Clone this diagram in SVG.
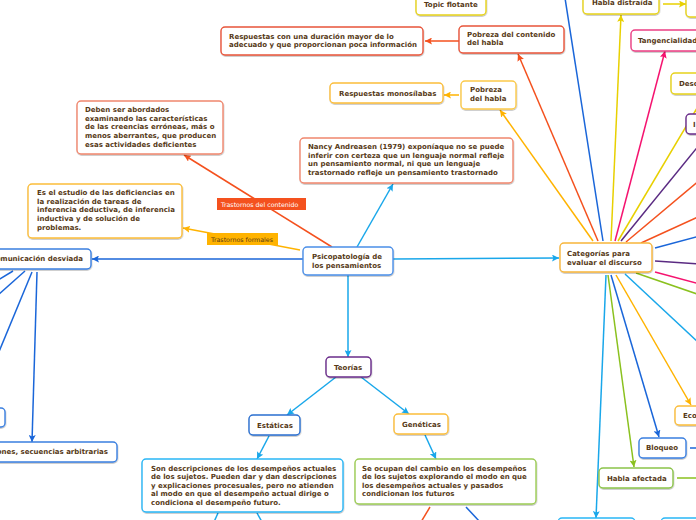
<svg xmlns="http://www.w3.org/2000/svg" width="696" height="520" viewBox="0 0 696 520">
<style>
.n rect{fill:#fff;stroke-width:1.4;filter:url(#sh)}
.t{font-family:"DejaVu Sans",Verdana,sans-serif;font-weight:bold;font-size:7px;fill:#573a17}
.l{font-family:"DejaVu Sans",Arial,sans-serif;font-size:6.3px}
#edges line,#edges path{stroke-width:1.5;fill:none}
.bl{stroke:#1a66d9}.cy{stroke:#19a7ea}.or{stroke:#f4511e}.am{stroke:#ffb300}.ye{stroke:#e8d000}.pk{stroke:#f5136f}.gr{stroke:#8ac11e}.pu{stroke:#5a2a82}
</style>
<defs>
<filter id="sh" x="-10%" y="-20%" width="120%" height="160%"><feDropShadow dx="0.4" dy="1" stdDeviation="0.7" flood-color="#000" flood-opacity="0.25"/></filter>
<marker id="mbl" viewBox="0 0 10 10" refX="10" refY="5" markerWidth="7" markerHeight="7" markerUnits="userSpaceOnUse" orient="auto"><path d="M0,0L10,5L0,10L2,5z" fill="#1a66d9"/></marker>
<marker id="mcy" viewBox="0 0 10 10" refX="10" refY="5" markerWidth="7" markerHeight="7" markerUnits="userSpaceOnUse" orient="auto"><path d="M0,0L10,5L0,10L2,5z" fill="#19a7ea"/></marker>
<marker id="mor" viewBox="0 0 10 10" refX="10" refY="5" markerWidth="7" markerHeight="7" markerUnits="userSpaceOnUse" orient="auto"><path d="M0,0L10,5L0,10L2,5z" fill="#f4511e"/></marker>
<marker id="mam" viewBox="0 0 10 10" refX="10" refY="5" markerWidth="7" markerHeight="7" markerUnits="userSpaceOnUse" orient="auto"><path d="M0,0L10,5L0,10L2,5z" fill="#ffb300"/></marker>
<marker id="mye" viewBox="0 0 10 10" refX="10" refY="5" markerWidth="7" markerHeight="7" markerUnits="userSpaceOnUse" orient="auto"><path d="M0,0L10,5L0,10L2,5z" fill="#e8d000"/></marker>
<marker id="mpk" viewBox="0 0 10 10" refX="10" refY="5" markerWidth="7" markerHeight="7" markerUnits="userSpaceOnUse" orient="auto"><path d="M0,0L10,5L0,10L2,5z" fill="#f5136f"/></marker>
<marker id="mgr" viewBox="0 0 10 10" refX="10" refY="5" markerWidth="7" markerHeight="7" markerUnits="userSpaceOnUse" orient="auto"><path d="M0,0L10,5L0,10L2,5z" fill="#8ac11e"/></marker>
</defs>
<rect width="696" height="520" fill="#fff"/>
<g id="edges">
<line class="cy" x1="357" y1="247" x2="393" y2="184" marker-end="url(#mcy)"/>
<line class="or" x1="332" y1="247" x2="184" y2="155" marker-end="url(#mor)"/>
<line class="am" x1="300" y1="250" x2="183" y2="228" marker-end="url(#mam)"/>
<line class="bl" x1="303" y1="259" x2="92" y2="259" marker-end="url(#mbl)"/>
<line class="cy" x1="393" y1="259" x2="559" y2="258" marker-end="url(#mcy)"/>
<line class="cy" x1="348" y1="275" x2="348" y2="357" marker-end="url(#mcy)"/>
<line class="cy" x1="336" y1="377" x2="287" y2="415" marker-end="url(#mcy)"/>
<line class="cy" x1="361" y1="377" x2="409" y2="414" marker-end="url(#mcy)"/>
<line class="cy" x1="269" y1="436" x2="257" y2="459" marker-end="url(#mcy)"/>
<line class="cy" x1="425" y1="435" x2="436" y2="459" marker-end="url(#mcy)"/>
<line class="cy" x1="218" y1="513" x2="214" y2="522"/>
<line class="cy" x1="257" y1="513" x2="262" y2="522"/>
<line class="or" x1="430" y1="507" x2="421" y2="522"/>
<line class="bl" x1="466" y1="507" x2="480" y2="522"/>
<line class="or" x1="459" y1="41" x2="425" y2="41" marker-end="url(#mor)"/>
<line class="am" x1="459" y1="95" x2="444" y2="95" marker-end="url(#mam)"/>
<line class="ye" x1="663" y1="4" x2="686" y2="4" marker-end="url(#mye)"/>
<line class="am" x1="593" y1="241" x2="500" y2="110" marker-end="url(#mam)"/>
<line class="or" x1="598" y1="241" x2="518" y2="54" marker-end="url(#mor)"/>
<line class="bl" x1="603" y1="241" x2="565" y2="-2"/>
<line class="ye" x1="611" y1="241" x2="621" y2="15" marker-end="url(#mye)"/>
<line class="pk" x1="615" y1="241" x2="665" y2="51" marker-end="url(#mpk)"/>
<line class="ye" x1="618" y1="241" x2="706" y2="93"/>
<line class="pu" x1="621" y1="241" x2="700" y2="144"/>
<line class="or" x1="626" y1="242" x2="700" y2="180"/>
<line class="or" x1="641" y1="243" x2="700" y2="216"/>
<line class="bl" x1="655" y1="248" x2="700" y2="236"/>
<line class="pu" x1="655" y1="261" x2="700" y2="264"/>
<line class="pk" x1="655" y1="272" x2="700" y2="284"/>
<line class="gr" x1="636" y1="273" x2="700" y2="295"/>
<line class="cy" x1="625" y1="274" x2="700" y2="344"/>
<line class="am" x1="616" y1="275" x2="691" y2="405" marker-end="url(#mam)"/>
<line class="bl" x1="611" y1="275" x2="659" y2="437" marker-end="url(#mbl)"/>
<line class="gr" x1="608" y1="275" x2="634" y2="467" marker-end="url(#mgr)"/>
<line class="cy" x1="606" y1="275" x2="596" y2="518" marker-end="url(#mcy)"/>
<line class="bl" x1="690" y1="448" x2="700" y2="448"/>
<line class="gr" x1="677" y1="478" x2="700" y2="478"/>
<line class="bl" x1="13" y1="271" x2="-2" y2="280"/>
<line class="bl" x1="25" y1="271" x2="-2" y2="295"/>
<line class="bl" x1="32" y1="272" x2="-2" y2="354"/>
<line class="bl" x1="37" y1="272" x2="32" y2="442" marker-end="url(#mbl)"/>
</g>
<g id="lbl-contenido"><rect x="217" y="198" width="89" height="12" fill="#f4511e"/><text class="l" x="221" y="206.5" fill="#fff">Trastornos del contenido</text></g>
<g id="lbl-formales"><rect x="207" y="233" width="71" height="12" fill="#ffb300"/><text class="l" x="211" y="241.5" fill="#573a17">Trastornos formales</text></g>
<g id="psico" class="n"><rect x="303" y="247" width="90" height="28" rx="4" stroke="#4b8fe8"/><text class="t" x="312" y="259">Psicopatología de</text><text class="t" x="312" y="268">los pensamientos</text></g>
<g id="categorias" class="n"><rect x="560" y="243" width="92" height="29" rx="4" stroke="#f7b53b"/><text class="t" x="567" y="256">Categorías para</text><text class="t" x="567" y="265">evaluar el discurso</text></g>
<g id="nancy" class="n"><rect x="300" y="138" width="213" height="45" rx="4" stroke="#f0876e"/><text class="t" x="308" y="149">Nancy Andreasen (1979) exponíaque no se puede</text><text class="t" x="308" y="158">inferir con certeza que un lenguaje normal refleje</text><text class="t" x="308" y="166">un pensamiento normal, ni que un lenguaje</text><text class="t" x="308" y="175">trastornado refleje un pensamiento trastornado</text></g>
<g id="deben" class="n"><rect x="77" y="101" width="146" height="53" rx="4" stroke="#f0876e"/><text class="t" x="85" y="112">Deben ser abordados</text><text class="t" x="85" y="121">examinando las características</text><text class="t" x="85" y="129">de las creencias erróneas, más o</text><text class="t" x="85" y="138">menos aberrantes, que producen</text><text class="t" x="85" y="147">esas actividades deficientes</text></g>
<g id="estudio" class="n"><rect x="28" y="184" width="154" height="54" rx="4" stroke="#fbbd3a"/><text class="t" x="37" y="195">Es el estudio de las deficiencias en</text><text class="t" x="37" y="204">la realización de tareas de</text><text class="t" x="37" y="212">inferencia deductiva, de inferencia</text><text class="t" x="37" y="221">inductiva y de solución de</text><text class="t" x="37" y="230">problemas.</text></g>
<g id="duracion" class="n"><rect x="221" y="27" width="202" height="28" rx="4" stroke="#e8543a"/><text class="t" x="229" y="39">Respuestas con una duración mayor de lo</text><text class="t" x="229" y="47">adecuado y que proporcionan poca información</text></g>
<g id="pobcont" class="n"><rect x="459" y="26" width="105" height="27" rx="4" stroke="#e8543a"/><text class="t" x="467" y="37">Pobreza del contenido</text><text class="t" x="467" y="45">del habla</text></g>
<g id="monosilabas" class="n"><rect x="330" y="83" width="113" height="20" rx="4" stroke="#fbbd3a"/><text class="t" x="339" y="96">Respuestas monosílabas</text></g>
<g id="pobhabla" class="n"><rect x="461" y="81" width="55" height="28" rx="4" stroke="#fbc94a"/><text class="t" x="470" y="92">Pobreza</text><text class="t" x="470" y="101">del habla</text></g>
<g id="topic" class="n"><rect x="416" y="-6" width="70" height="21" rx="4" stroke="#e6d21a"/><text class="t" x="424" y="7">Topic flotante</text></g>
<g id="distraida" class="n"><rect x="583" y="-6" width="76" height="20" rx="4" stroke="#e6d21a"/><text class="t" x="592" y="5">Habla distraída</text></g>
<g id="rtop" class="n"><rect x="686" y="-6" width="30" height="23" rx="4" stroke="#e6d21a"/></g>
<g id="tangencialidad" class="n"><rect x="631" y="30" width="75" height="21" rx="4" stroke="#ec3f84"/><text class="t" x="638" y="43">Tangencialidad</text></g>
<g id="desc" class="n"><rect x="671" y="73" width="40" height="21" rx="4" stroke="#e6d21a"/><text class="t" x="679" y="86">Desc</text></g>
<g id="purp" class="n"><rect x="686" y="114" width="30" height="20" rx="4" stroke="#6a2c8a"/><text class="t" x="693" y="127">I</text></g>
<g id="eco" class="n"><rect x="675" y="406" width="40" height="19" rx="4" stroke="#fbbd3a"/><text class="t" x="683" y="418">Eco</text></g>
<g id="bloqueo" class="n"><rect x="639" y="438" width="47" height="20" rx="4" stroke="#3a7fe0"/><text class="t" x="646" y="450">Bloqueo</text></g>
<g id="afectada" class="n"><rect x="599" y="468" width="74" height="20" rx="4" stroke="#8bc34a"/><text class="t" x="607" y="481">Habla afectada</text></g>
<g id="bot1" class="n"><rect x="558" y="518" width="77" height="20" rx="4" stroke="#29b6f6"/></g>
<g id="bot2" class="n"><rect x="661" y="518" width="60" height="20" rx="4" stroke="#29b6f6"/></g>
<g id="teorias" class="n"><rect x="326" y="357" width="45" height="20" rx="4" stroke="#6a2c8a"/><text class="t" x="334" y="370">Teorías</text></g>
<g id="estaticas" class="n"><rect x="249" y="415" width="51" height="20" rx="4" stroke="#2a6fd0"/><text class="t" x="257" y="428">Estáticas</text></g>
<g id="geneticas" class="n"><rect x="394" y="414" width="54" height="20" rx="4" stroke="#fbbd3a"/><text class="t" x="402" y="427">Genéticas</text></g>
<g id="son" class="n"><rect x="142" y="459" width="201" height="53" rx="4" stroke="#29b6f6"/><text class="t" x="151" y="471">Son descripciones de los desempeños actuales</text><text class="t" x="151" y="479">de los sujetos. Pueden dar y dan descripciones</text><text class="t" x="151" y="488">y explicaciones procesuales, pero no atienden</text><text class="t" x="151" y="496">al modo en que el desempeño actual dirige o</text><text class="t" x="151" y="505">condiciona el desempeño futuro.</text></g>
<g id="ocupan" class="n"><rect x="355" y="459" width="181" height="45" rx="4" stroke="#9ccc55"/><text class="t" x="362" y="471">Se ocupan del cambio en los desempeños</text><text class="t" x="362" y="479">de los sujetos explorando el modo en que</text><text class="t" x="362" y="488">los desempeños actuales y pasados</text><text class="t" x="362" y="496">condicionan los futuros</text></g>
<g id="comunicacion" class="n"><rect x="-10" y="249" width="101" height="20" rx="4" stroke="#3a7fe0"/><text class="t" x="83" y="261" text-anchor="end">Comunicación desviada</text></g>
<g id="leftsmall" class="n"><rect x="-10" y="408" width="15" height="19" rx="4" stroke="#3a7fe0"/></g>
<g id="secuencias" class="n"><rect x="-10" y="442" width="127" height="20" rx="4" stroke="#3a7fe0"/><text class="t" x="108" y="454" text-anchor="end">ones, secuencias arbitrarias</text></g>
</svg>
